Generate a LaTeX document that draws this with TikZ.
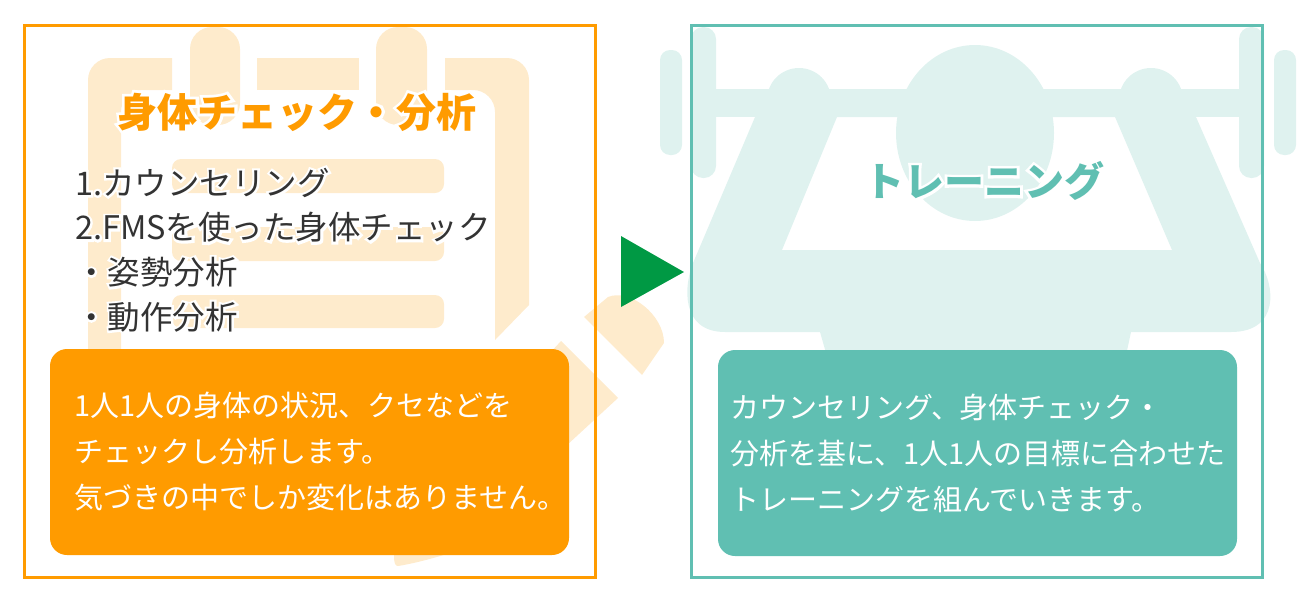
\documentclass[tikz,border=0pt]{standalone}
\usepackage{fontspec}
\setmainfont{Noto Sans CJK JP}
\newfontfamily\halofont[FakeBold=14]{Noto Sans CJK JP}
\usetikzlibrary{positioning}
\definecolor{mainorange}{HTML}{FF9B00}
\definecolor{paleorange}{HTML}{FEEBCC}
\definecolor{mainteal}{HTML}{60BFB2}
\definecolor{paleteal}{HTML}{DFF2EF}
\definecolor{arrowgreen}{HTML}{009944}
\definecolor{bodytext}{HTML}{333333}
\newcommand{\halo}[1]{\rlap{\textcolor{white}{\halofont #1}}#1}

\begin{document}
\begin{tikzpicture}[x=1pt,y=-1pt,node distance=24pt]
\tikzstyle{frame}=[draw,line width=3pt,fill=none,minimum width=571pt,minimum height=552pt,inner sep=0pt]
\tikzstyle{panel}=[rounded corners=17pt,minimum width=519pt,minimum height=206pt,inner sep=0pt]
\tikzstyle{title}=[inner sep=0pt,font=\fontsize{40}{48}\selectfont\bfseries]
\tikzstyle{listing}=[inner sep=0pt,align=left,text=bodytext,font=\fontsize{32.5}{44.7}\selectfont]
\tikzstyle{note}=[inner sep=0pt,align=left,text=white,font=\fontsize{29}{46}\selectfont]
\useasboundingbox (0,0) rectangle (1300,600);

\fill[paleorange] (172,58) [rounded corners=22pt] -- (88,58) -- (88,420) [sharp corners] -- (121,420) [rounded corners=22pt] -- (121,90) [sharp corners] -- (172,90) -- cycle;
\fill[paleorange] (445,58) [rounded corners=22pt] -- (529,58) [sharp corners] -- (529,305) -- (495,340) [rounded corners=22pt] -- (495,90) [sharp corners] -- (445,90) -- cycle;
\fill[paleorange] (257,58) rectangle (359,90);
\fill[paleorange,rounded corners=22pt] (190,27) rectangle (240,125);
\fill[paleorange,rounded corners=22pt] (376,27) rectangle (427,125);
\fill[paleorange,rounded corners=9pt] (172,159) rectangle (444,193);
\fill[paleorange,rounded corners=9pt] (172,227) rectangle (444,261);
\fill[paleorange,rounded corners=9pt] (172,295) rectangle (444,328);
\fill[paleorange] (561,341) -- (618,398) -- (450,553) .. controls (425,561) and (405,565) .. (398,566) .. controls (395,566) and (394,563) .. (394,555) -- (395,520) -- cycle;
\fill[paleorange] (584,317) -- (608,297) .. controls (630,288) and (664,315) .. (664,343) -- (642,375) -- cycle;

\fill[paleteal,rounded corners=10pt] (660,50) rectangle (682,155);
\fill[paleteal,rounded corners=10pt] (1274,50) rectangle (1296,155);
\fill[paleteal,rounded corners=12pt] (691,27) rectangle (716,178);
\fill[paleteal,rounded corners=12pt] (1239,27) rectangle (1264,178);
\fill[paleteal] (716,89) rectangle (1239,117);
\fill[paleteal] (799,100) circle (32pt);
\fill[paleteal] (1151,100) circle (32pt);
\fill[paleteal,even odd rule] (755,117) -- (693,263) .. controls (684,285) and (680,332) .. (725,332) -- (820,332) -- (828,360) -- (1125,360) -- (1131,332) -- (1231,332) .. controls (1280,332) and (1275,285) .. (1260,263) -- (1196,117) -- cycle
  (837,117) -- (782,250) -- (1172,250) -- (1115,117) -- cycle;
\fill[paleteal] (975,133) ellipse (79pt and 88pt);

\node[frame,draw=mainorange] (leftframe) at (309.5,301) {};
\node[frame,draw=mainteal] (rightframe) at (976.5,301) {};
\node[panel,fill=mainorange] (leftpanel) at (309.5,452) {};
\node[panel,fill=mainteal] (rightpanel) at (977.5,453) {};
\fill[arrowgreen] (621,236) -- (684,272) -- (621,307) -- cycle;

\node[title,text=mainorange] (lefttitle) at (297,112) {\halo{身体チェック・分析}};
\node[title,text=mainteal] (righttitle) at (984,181) {\halo{トレーニング}};
\node[listing,anchor=west] (checklist) at (75,250) {\halo{1.カウンセリング}\\\halo{2.FMSを使った身体チェック}\\\halo{・姿勢分析}\\\halo{・動作分析}};
\node[note,anchor=west,right=24pt of leftpanel.west] (leftnote) {1人1人の身体の状況、クセなどを\\チェックし分析します。\\気づきの中でしか変化はありません。};
\node[note,anchor=west,right=12pt of rightpanel.west] (rightnote) {カウンセリング、身体チェック・\\分析を基に、1人1人の目標に合わせた\\トレーニングを組んでいきます。};
\end{tikzpicture}
\end{document}
